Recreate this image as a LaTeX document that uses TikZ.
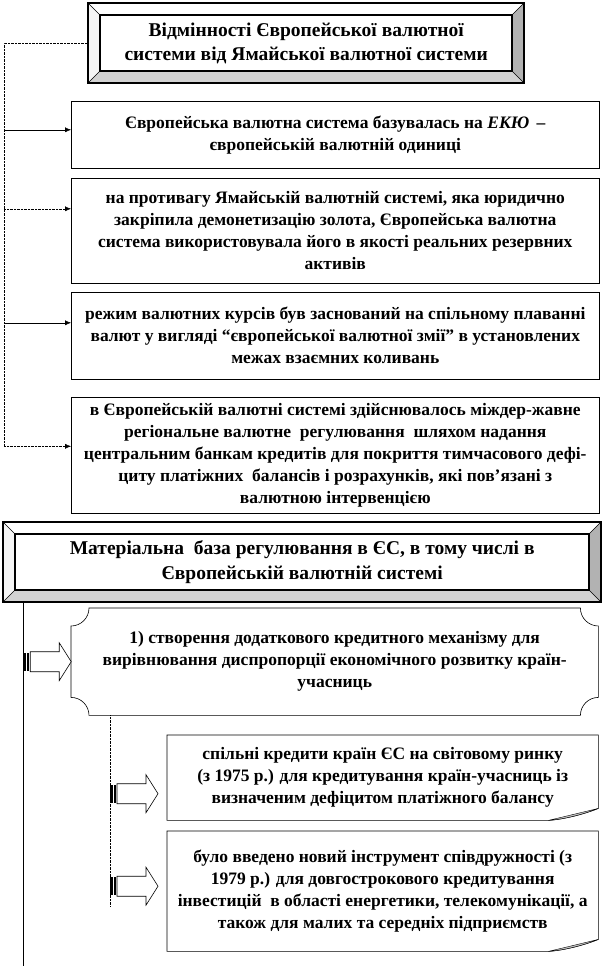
\documentclass[tikz,border=0pt]{standalone}
\usepackage{fontspec}
\setmainfont{Liberation Serif}
\usetikzlibrary{arrows.meta,positioning}

\tikzset{
  boxfont/.style={font=\fontsize{17.5}{22}\selectfont\bfseries},
  titlefont/.style={font=\fontsize{19.5}{24.5}\selectfont\bfseries},
  notebox/.style={boxfont, draw, line width=0.6pt, anchor=north west, inner sep=0pt, align=center},
  textonly/.style={boxfont, anchor=north west, inner sep=0pt, align=center},
  stripedarrow/.pic={
    \fill[black] (0,-9) rectangle (2.5,9);
    \fill[black] (4,-9) rectangle (5.5,9);
    \draw[fill=white, line width=0.6pt] (7,10) -- (36,10) -- (36,19) -- (48,0) -- (36,-19) -- (36,-10) -- (7,-10) -- cycle;
  }
}

\begin{document}
\begin{tikzpicture}[x=1pt, y=1pt, >={Latex[length=6pt,width=5pt]}]
  \useasboundingbox (0,0) rectangle (604,-966);

  % bevelled title frames
  \foreach \X/\Y/\W in {88/3/436, 3/522/598}{
    \begin{scope}[shift={(\X,-\Y)}]
      \fill[white] (0,0) -- (\W,0) -- ({\W-12},-12) -- (12,-12) -- cycle;
      \fill[gray!8] (0,0) -- (12,-12) -- (12,-68) -- (0,-80) -- cycle;
      \fill[gray!35] (0,-80) -- (12,-68) -- ({\W-12},-68) -- (\W,-80) -- cycle;
      \fill[gray!60] (\W,0) -- ({\W-12},-12) -- ({\W-12},-68) -- (\W,-80) -- cycle;
      \draw[line width=0.5pt] (0,0) -- (12,-12) (\W,0) -- ({\W-12},-12)
        (0,-80) -- (12,-68) (\W,-80) -- ({\W-12},-68);
      \draw[line width=2pt] (12,-12) rectangle ({\W-12},-68);
      \draw[line width=2.5pt] (0,0) rectangle (\W,-80);
    \end{scope}
  }

  \node[textonly, titlefont, minimum width=436pt, minimum height=80pt] (t1) at (88,-3)
    {Відмінності Європейської валютної\\системи від Ямайської валютної системи};
  \node[notebox, minimum width=528pt, minimum height=67pt] (b1) at (71,-101)
    {Європейська валютна система базувалась на \textit{ЕКЮ} \,–\\європейській валютній одиниці};
  \node[notebox, minimum width=528pt, minimum height=105pt] (b2) at (71,-178)
    {на противагу Ямайській валютній системі, яка юридично\\закріпила демонетизацію золота, Європейська валютна\\система використовувала його в якості реальних резервних\\активів};
  \node[notebox, minimum width=528pt, minimum height=87pt] (b3) at (71,-292)
    {режим валютних курсів був заснований на спільному плаванні\\валют у вигляді “європейської валютної змії” в установлених\\межах взаємних коливань};
  \node[notebox, minimum width=528pt, minimum height=116pt] (b4) at (71,-397)
    {в Європейській валютні системі здійснювалось міждер-жавне\\регіональне валютне \ регулювання \ шляхом надання\\центральним банкам кредитів для покриття тимчасового дефі-\\циту платіжних \ балансів і розрахунків, які пов’язані з\\валютною інтервенцією};

  \node[textonly, titlefont, minimum width=598pt, minimum height=80pt] (t2) at (3,-522)
    {Матеріальна \ база регулювання в ЄС, в тому числі в\\Європейській валютній системі};
  \node[textonly, minimum width=527pt, minimum height=107pt] (sc) at (71,-608)
    {1) створення додаткового кредитного механізму для\\вирівнювання диспропорції економічного розвитку країн-\\учасниць};
  \node[textonly, minimum width=431pt, minimum height=85pt] (b5) at (167,-735)
    {спільні кредити країн ЄС на світовому ринку\\(з 1975 р.) для кредитування країн-учасниць із\\визначеним дефіцитом платіжного балансу};
  \node[textonly, minimum width=431pt, minimum height=120pt] (b6) at (167,-831)
    {було введено новий інструмент співдружності (з\\1979 р.) для довгострокового кредитування\\інвестицій \ в області енергетики, телекомунікації, а\\також для малих та середніх підприємств};

  % upper block: dotted spine with arrows
  \coordinate (spine) at ([xshift=-84pt]t1.west);
  \foreach \n/\s/\st in {b1/5/solid, b2/22/densely dotted, b3/13/solid, b4/9/densely dotted}{
    \coordinate (\n-in) at ([yshift=\s pt]\n.west);
    \draw[\st, ->] (spine |- \n-in) -- (\n-in);
  }
  \draw[densely dotted] (t1.west) -- (spine) -- (spine |- b4-in);

  % plaque with cut corners
  \draw[line width=0.6pt] ([xshift=18pt]sc.north west) -- ([xshift=-18pt]sc.north east)
    arc[start angle=180, end angle=270, radius=18pt] -- ([yshift=18pt]sc.south east)
    arc[start angle=90, end angle=180, radius=18pt] -- ([xshift=18pt]sc.south west)
    arc[start angle=0, end angle=90, radius=18pt] -- ([yshift=-18pt]sc.north west)
    arc[start angle=270, end angle=360, radius=18pt] -- cycle;

  % boxes with folded corner
  \foreach \n in {b5,b6}{
    \draw[line width=0.6pt] (\n.north west) -- (\n.north east) -- ([yshift=12pt]\n.south east)
      .. controls ([xshift=-15pt,yshift=6pt]\n.south east) and ([xshift=-35pt,yshift=1pt]\n.south east)
      .. ([xshift=-50pt]\n.south east) -- (\n.south west) -- cycle;
    \filldraw[fill=gray!45, line width=0.4pt] ([yshift=12pt]\n.south east)
      .. controls ([xshift=-15pt,yshift=6pt]\n.south east) and ([xshift=-35pt,yshift=1pt]\n.south east)
      .. ([xshift=-50pt]\n.south east) -- cycle;
  }

  % lower block: solid spine and striped arrows
  \coordinate (spine2) at ([xshift=-279pt]t2.south);
  \draw (spine2) -- ++(0,-364);
  \pic at (spine2 |- sc.west) {stripedarrow};

  \coordinate (spine3) at ([xshift=39pt]sc.south west);
  \coordinate (a5) at ([yshift=-16pt]b5.west);
  \coordinate (a6) at ([yshift=5pt]b6.west);
  \coordinate (e6) at ([yshift=-20pt]a6);
  \draw[densely dotted] (spine3) -- (spine3 |- e6);
  \pic at (spine3 |- a5) {stripedarrow};
  \pic at (spine3 |- a6) {stripedarrow};
\end{tikzpicture}
\end{document}
